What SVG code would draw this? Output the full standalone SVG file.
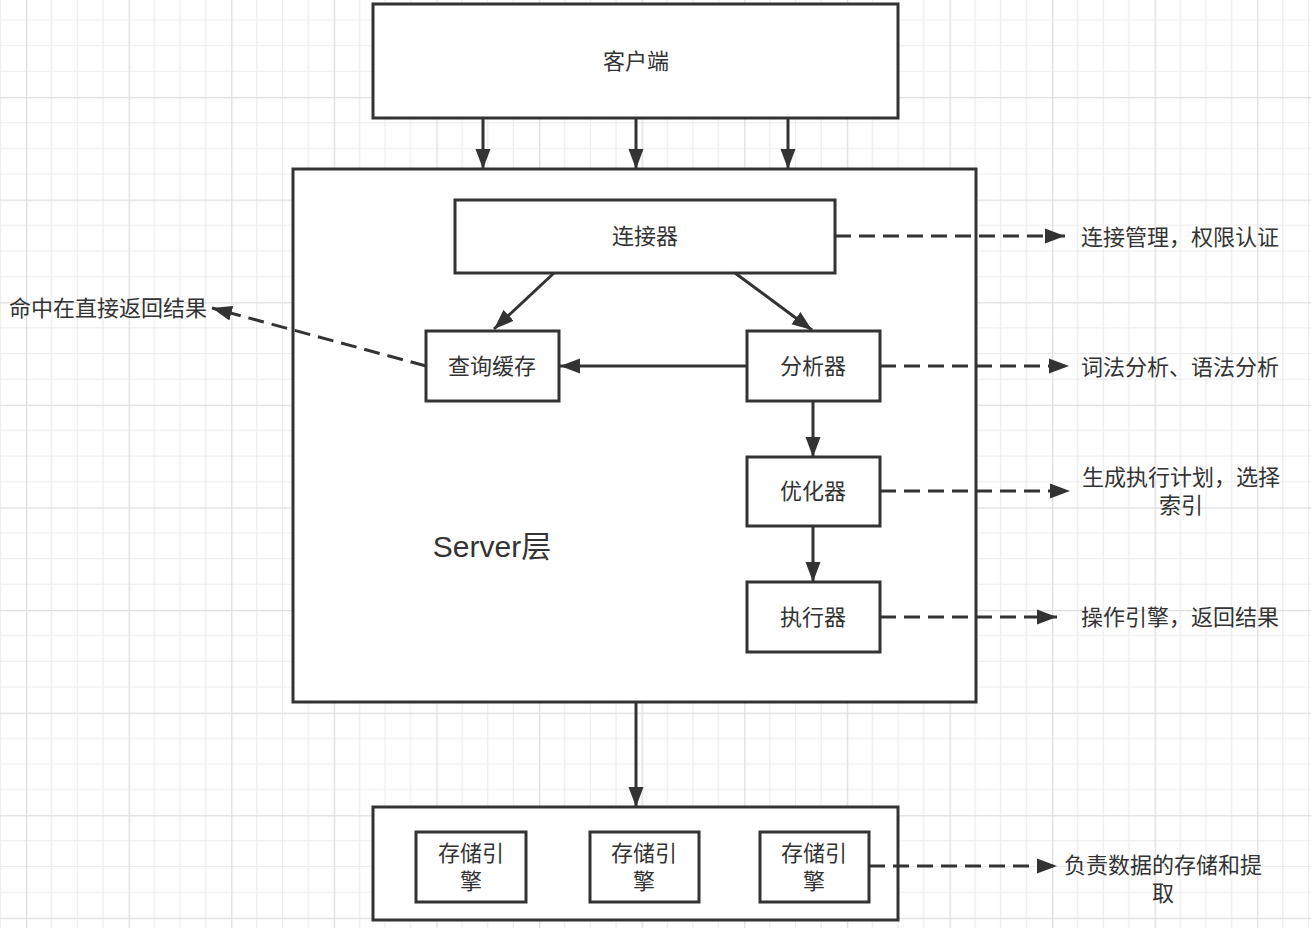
<svg xmlns="http://www.w3.org/2000/svg" width="1311" height="928" viewBox="0 0 1311 928">
<defs>
<pattern id="grid" patternUnits="userSpaceOnUse" x="26" y="-5.6" width="102.6" height="102.6">
<path d="M25.65,0V102.6M51.3,0V102.6M76.95,0V102.6M0,25.65H102.6M0,51.3H102.6M0,76.95H102.6" stroke="#ececec" stroke-width="1.2" fill="none"/>
<path d="M0.6,0V102.6M0,0.6H102.6" stroke="#dedede" stroke-width="1.4" fill="none"/>
</pattern>
<marker id="ah" markerUnits="userSpaceOnUse" markerWidth="20" markerHeight="16" refX="20" refY="8" orient="auto">
<path d="M0,0.5 L20,8 L0,15.5 z" fill="#333"/>
</marker>
<style>
.box{fill:#fff;stroke:#333;stroke-width:3}
.t{font-family:"Noto Sans CJK SC","Liberation Sans",sans-serif;font-size:22px;fill:#333;text-anchor:middle;dominant-baseline:central}
.n{font-family:"Noto Sans CJK SC","Liberation Sans",sans-serif;font-size:22px;fill:#333;text-anchor:start;dominant-baseline:central}
.c{fill:none;stroke:#333;stroke-width:3;marker-end:url(#ah)}
.d{fill:none;stroke:#333;stroke-width:3;stroke-dasharray:16 8;marker-end:url(#ah)}
</style>
</defs>
<rect width="1311" height="928" fill="#fff"/>
<rect width="1311" height="928" fill="url(#grid)"/>

<g id="client"><rect class="box" x="373" y="4" width="525" height="114"/><text class="t" x="636" y="59">客户端</text></g>
<g id="server"><rect class="box" x="293" y="169" width="683" height="533"/><text x="492" y="546" font-family="'Liberation Sans','Noto Sans CJK SC',sans-serif" font-size="30" fill="#333" text-anchor="middle" dominant-baseline="central">Server层</text></g>
<g id="connector"><rect class="box" x="455" y="200" width="380" height="73"/><text class="t" x="645" y="234">连接器</text></g>
<g id="cache"><rect class="box" x="426" y="331" width="133" height="70"/><text class="t" x="492" y="364">查询缓存</text></g>
<g id="analyzer"><rect class="box" x="747" y="331" width="133" height="70"/><text class="t" x="813" y="364">分析器</text></g>
<g id="optimizer"><rect class="box" x="747" y="457" width="133" height="69"/><text class="t" x="813" y="489">优化器</text></g>
<g id="executor"><rect class="box" x="747" y="582" width="133" height="70"/><text class="t" x="813" y="615">执行器</text></g>
<g id="storage"><rect class="box" x="373" y="807" width="525" height="113"/></g>
<g id="engine1"><rect class="box" x="416" y="832" width="110" height="70"/><text class="t" x="471" y="851">存储引<tspan x="471" dy="28">擎</tspan></text></g>
<g id="engine2"><rect class="box" x="590" y="832" width="109" height="70"/><text class="t" x="644" y="851">存储引<tspan x="644" dy="28">擎</tspan></text></g>
<g id="engine3"><rect class="box" x="760" y="832" width="109" height="70"/><text class="t" x="814" y="851">存储引<tspan x="814" dy="28">擎</tspan></text></g>

<g id="notes">
<text class="n" x="1081" y="235">连接管理，权限认证</text>
<text class="n" x="9" y="306">命中在直接返回结果</text>
<text class="n" x="1081" y="365">词法分析、语法分析</text>
<text class="t" x="1181" y="475">生成执行计划，选择<tspan x="1181" dy="28">索引</tspan></text>
<text class="n" x="1081" y="615">操作引擎，返回结果</text>
<text class="t" x="1163" y="863">负责数据的存储和提<tspan x="1163" dy="28">取</tspan></text>
</g>

<g id="connectors">
<path class="c" d="M483,118V169"/>
<path class="c" d="M636,118V169"/>
<path class="c" d="M788,118V169"/>
<path class="c" d="M554,273L494,329"/>
<path class="c" d="M735,273L812,330"/>
<path class="c" d="M747,366H560"/>
<path class="c" d="M813,401V457"/>
<path class="c" d="M813,526V582"/>
<path class="c" d="M636,702V807"/>
<path class="d" d="M835,236H1065"/>
<path class="d" d="M426,366L212,308"/>
<path class="d" d="M880,366H1069"/>
<path class="d" d="M880,491H1070"/>
<path class="d" d="M880,617H1057"/>
<path class="d" d="M869,866H1057"/>
</g>
</svg>
